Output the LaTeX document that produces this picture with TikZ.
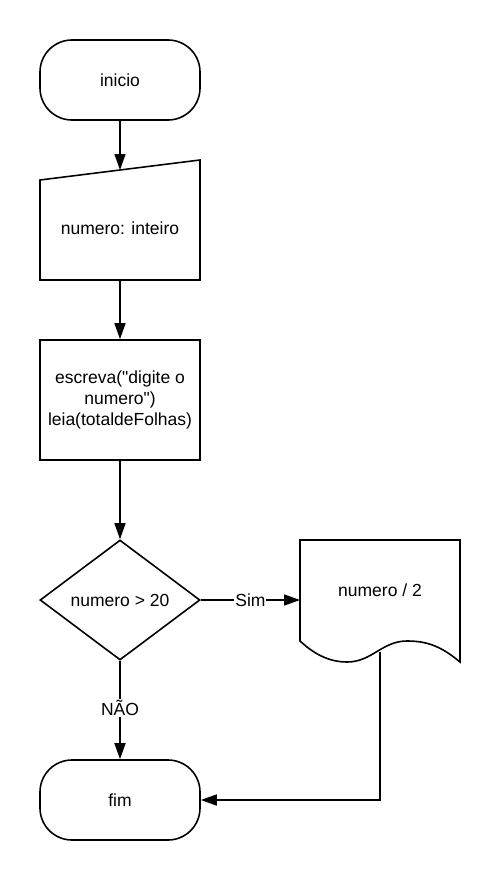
\documentclass[tikz,border=0pt]{standalone}
\usepackage{fontspec}
\setmainfont{Liberation Sans}[Ligatures=TeXOff]
\usetikzlibrary{shapes.geometric,arrows.meta}
\begin{document}
\begin{tikzpicture}[x=1pt,y=-1pt,line width=1.6pt,
  font=\fontsize{17.5}{21}\selectfont,
  term/.style={draw,rounded corners=32pt,minimum width=160pt,minimum height=80pt,inner sep=0pt},
  proc/.style={draw,minimum width=160pt,minimum height=120pt,inner sep=0pt,align=center},
  decis/.style={draw,diamond,aspect=1.3333,minimum width=160pt,minimum height=120pt,inner sep=0pt},
  txt/.style={inner sep=0pt},
  lbl/.style={fill=white,inner sep=1pt},
  arr/.style={-{Triangle[length=16pt,width=11pt]}}]
\useasboundingbox (0,0) rectangle (500,880);
% start
\node[term] (inicio) at (120,80) {inicio};
% manual input
\draw (40,180) -- (200,160) -- (200,280) -- (40,280) -- cycle;
\node[txt] (entrada) at (120,228) {numero: inteiro};
\coordinate (mitop) at (120,170);
\coordinate (mibot) at (120,280);
% process
\node[proc] (proc) at (120,400) {escreva("digite o\\numero")\\leia(totaldeFolhas)};
% decision
\node[decis] (dec) at (120,600) {numero > 20};
% document
\draw (300,540) -- (460,540) -- (460,662)
  .. controls (442,647) and (428,641) .. (407,641)
  .. controls (382,641) and (372,662) .. (347,662)
  .. controls (325,662) and (310,650) .. (300,641) -- cycle;
\node[txt] (doc) at (380,590) {numero / 2};
\coordinate (docw) at (300,600);
\coordinate (docb) at (380,652);
\coordinate (corner) at (380,800);
% end
\node[term] (fim) at (120,800) {fim};
% connectors
\draw[arr] (inicio.south) -- (mitop);
\draw[arr] (mibot) -- (proc.north);
\draw[arr] (proc.south) -- (dec.north);
\draw[arr] (dec.east) -- node[lbl] {Sim} (docw);
\draw[arr] (dec.south) -- node[lbl,pos=0.48] {NÃO} (fim.north);
\draw[arr] (docb) -- (corner) -- (fim.east);
\end{tikzpicture}
\end{document}
